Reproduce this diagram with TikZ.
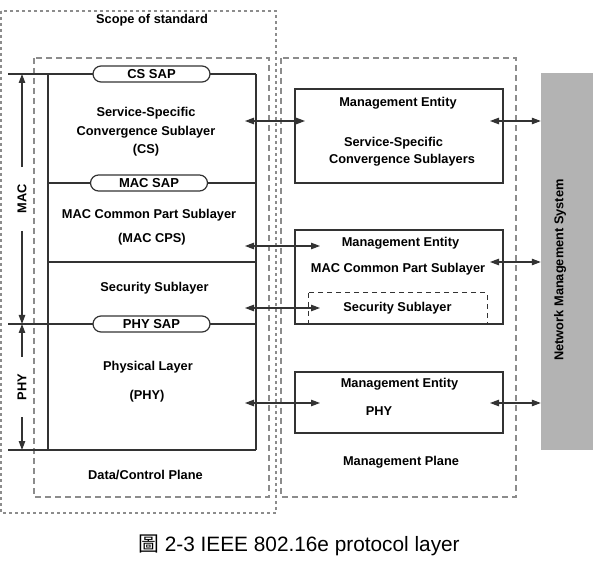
\documentclass[tikz,border=0pt]{standalone}
\usepackage{fontspec}
\setmainfont{Liberation Sans}
\newfontfamily\cjkfont{Noto Sans CJK TC}
\usetikzlibrary{arrows.meta}
\definecolor{linegray}{HTML}{333333}
\definecolor{dashgray}{HTML}{8C8C8C}
\definecolor{nmsgray}{HTML}{B3B3B3}
\begin{document}
\begin{tikzpicture}[x=1pt,y=-1pt,
  stdbox/.style={draw=dashgray, line width=1.4pt, dash pattern=on 3pt off 3pt},
  planebox/.style={draw=dashgray, line width=1.4pt, dash pattern=on 6pt off 4pt},
  lyr/.style={draw=linegray, line width=1.2pt},
  sap/.style={draw=linegray, line width=1.2pt, fill=white, rounded corners=8pt, minimum width=117pt, minimum height=16pt, inner sep=0pt, font=\fontsize{13}{13}\selectfont\bfseries},
  mebox/.style={draw=linegray, line width=1.2pt, minimum width=208pt, inner sep=0pt},
  txt/.style={font=\fontsize{12.8}{18.5}\selectfont\bfseries, align=center, inner sep=0pt},
  side/.style={font=\fontsize{12.8}{12.8}\selectfont\bfseries, rotate=90, inner xsep=17pt, inner ysep=2pt},
  tip/.style={draw=linegray, line width=1.1pt, -{Triangle[length=9pt,width=6.5pt]}},
  dbl/.style={draw=linegray, line width=1.1pt, {Triangle[length=9pt,width=6.5pt]}-{Triangle[length=9pt,width=6.5pt]}}]
\useasboundingbox (0,0) rectangle (595,564);
\draw[stdbox] (1,11) rectangle (276,513);
\draw[planebox] (34,58) rectangle (269,497);
\draw[planebox] (281,58) rectangle (516,497);
\node[txt] (scopetxt) at (152,20) {Scope of standard};
\draw[lyr] (8,74) -- (256,74);
\draw[lyr] (48,74) -- (48,450);
\draw[lyr] (256,74) -- (256,450);
\draw[lyr] (48,183) -- (256,183);
\draw[lyr] (48,262) -- (256,262);
\draw[lyr] (8,324) -- (256,324);
\draw[lyr] (8,450) -- (256,450);
\node[sap] (cssap) at (151.5,74) {CS SAP};
\node[sap] (macsap) at (149,183) {MAC SAP};
\node[sap] (physap) at (151.5,324) {PHY SAP};
\node[txt] (cstxt) at (146,132) {Service-Specific\\Convergence Sublayer\\(CS)};
\node[txt] (macpstxt) at (149,215) {MAC Common Part Sublayer};
\node[txt] (maccpstxt) at (152,239) {(MAC CPS)};
\node[txt] (sectxt) at (154.5,288) {Security Sublayer};
\node[txt] (phylyrtxt) at (148,367) {Physical Layer};
\node[txt] (phyabbtxt) at (147,396) {(PHY)};
\node[txt] (dctxt) at (145.5,475) {Data/Control Plane};
\node[side] (maclbl) at (22,199) {MAC};
\node[side] (phylbl) at (22,387) {PHY};
\coordinate (mactop) at (22,74);
\coordinate (macbot) at (22,324);
\coordinate (phytop) at (22,324);
\coordinate (phybot) at (22,450);
\draw[tip] (maclbl.east) -- (mactop);
\draw[tip] (maclbl.west) -- (macbot);
\draw[tip] (phylbl.east) -- (phytop);
\draw[tip] (phylbl.west) -- (phybot);
\node[mebox, minimum height=94pt] (me1) at (399,136) {};
\node[mebox, minimum height=94pt] (me2) at (399,277) {};
\node[mebox, minimum height=61pt] (me3) at (399,402.5) {};
\draw[draw=linegray, line width=1pt, dash pattern=on 5pt off 4pt] (308,293) rectangle (487,324);
\node[txt] (me1title) at (398,103) {Management Entity};
\node[txt] (me1txta) at (393.5,143) {Service-Specific};
\node[txt] (me1txtb) at (402,160) {Convergence Sublayers};
\node[txt] (me2title) at (400.5,243) {Management Entity};
\node[txt] (me2txt) at (398,269) {MAC Common Part Sublayer};
\node[txt] (me2sec) at (397.5,308) {Security Sublayer};
\node[txt] (me3title) at (399.5,384) {Management Entity};
\node[txt] (me3txt) at (379,411) {PHY};
\node[txt] (mptxt) at (401,462) {Management Plane};
\node[fill=nmsgray, minimum width=52pt, minimum height=377pt, inner sep=0pt] (nms) at (567,261.5) {};
\node[txt, rotate=90] (nmstxt) at (560,270) {Network Management System};
\coordinate (csr) at (245,121);
\coordinate (me1l) at (305,121);
\coordinate (macr) at (245,246);
\coordinate (me2l) at (320,246);
\coordinate (secr) at (245,308);
\coordinate (secl) at (320,308);
\coordinate (phyr) at (245,403);
\coordinate (me3l) at (320,403);
\draw[dbl] (csr) -- (me1l);
\draw[dbl] (macr) -- (me2l);
\draw[dbl] (secr) -- (secl);
\draw[dbl] (phyr) -- (me3l);
\coordinate (me1r) at (490,121);
\coordinate (me2r) at (490,262);
\coordinate (me3r) at (490,403);
\draw[dbl] (me1r) -- (me1r -| nms.west);
\draw[dbl] (me2r) -- (me2r -| nms.west);
\draw[dbl] (me3r) -- (me3r -| nms.west);
\node[font=\fontsize{20.8}{20.8}\selectfont, inner sep=0pt] (caption) at (299,545) {{\cjkfont 圖} 2-3 IEEE 802.16e protocol layer};
\end{tikzpicture}
\end{document}
